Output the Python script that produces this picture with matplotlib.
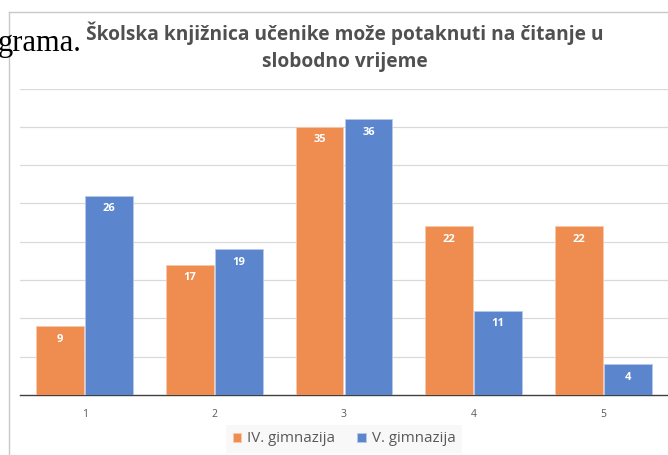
import numpy as np
import matplotlib.pyplot as plt
from matplotlib.lines import Line2D

categories = ['1', '2', '3', '4', '5']
series_names = ['IV. gimnazija', 'V. gimnazija']
iv_gimnazija = [9, 17, 35, 22, 22]
v_gimnazija = [26, 19, 36, 11, 4]

orange = '#EE8D4F'
blue = '#5B86CE'
text_gray = '#595959'

plt.rcParams['font.family'] = ['Open Sans', 'DejaVu Sans']

W, H = 668, 455
fig = plt.figure(figsize=(W / 100, H / 100), dpi=100)
fig.patch.set_facecolor('white')

ax = fig.add_axes([20 / W, 1 - 395 / H, 1 - 20 / W, (395 - 88.5) / H])

x = np.arange(1, len(categories) + 1)
bw = 0.37
b1 = ax.bar(x - bw / 2 - 0.004, iv_gimnazija, bw, color=orange, edgecolor='#f6c9ad', linewidth=0.6, zorder=3)
b2 = ax.bar(x + bw / 2 + 0.004, v_gimnazija, bw, color=blue, edgecolor='#b7c9ea', linewidth=0.6, zorder=3)

for bars in (b1, b2):
    for rect in bars:
        h = rect.get_height()
        ax.text(rect.get_x() + rect.get_width() / 2, h - 1.7, str(int(h)),
                ha='center', va='center', color='white', fontsize=8, fontweight='bold', zorder=4)

ax.set_xlim(0.5, 5.5)
ax.set_ylim(0, 40)
ax.set_yticks(np.arange(5, 41, 5))
ax.yaxis.grid(True, color='#d9d9d9', linewidth=0.9, zorder=0)
ax.tick_params(axis='y', left=False, labelleft=False)
ax.set_xticks(x)
ax.set_xticklabels(categories, fontsize=7.5, color=text_gray)
ax.tick_params(axis='x', length=0, pad=10)
for s in ['top', 'right', 'left']:
    ax.spines[s].set_visible(False)
ax.spines['bottom'].set_color('#404040')
ax.spines['bottom'].set_linewidth(1.0)

leg = fig.legend([b1, b2], series_names, loc='center', bbox_to_anchor=(344 / W, 1 - 439 / H),
                 ncol=2, frameon=True, fontsize=10.8, handlelength=0.55, handleheight=0.55,
                 handletextpad=0.4, columnspacing=1.5, borderpad=0.45, labelcolor=text_gray)
leg.get_frame().set_facecolor('#f7f7f7')
leg.get_frame().set_edgecolor('none')
leg.get_frame().set_boxstyle('square', pad=0)

fig.text(345 / W, 1 - 33 / H, 'Školska knjižnica učenike može potaknuti na čitanje u',
         ha='center', va='center', fontsize=13.8, fontweight='bold', color='#505050')
fig.text(345 / W, 1 - 62 / H, 'slobodno vrijeme',
         ha='center', va='center', fontsize=13.8, fontweight='bold', color='#505050')

# chart frame edges
fig.add_artist(Line2D([9 / W, 9 / W], [0, 1 - 12 / H], color='#c8c8c8', linewidth=1))
fig.add_artist(Line2D([9 / W, 1], [1 - 12 / H, 1 - 12 / H], color='#c8c8c8', linewidth=1))

# document text peeking in at the left
fig.text(-2 / W, 1 - 51 / H, 'grama.', ha='left', va='baseline', fontsize=22,
         family='Liberation Serif', color='black')

fig.savefig('out.png', dpi=100)
